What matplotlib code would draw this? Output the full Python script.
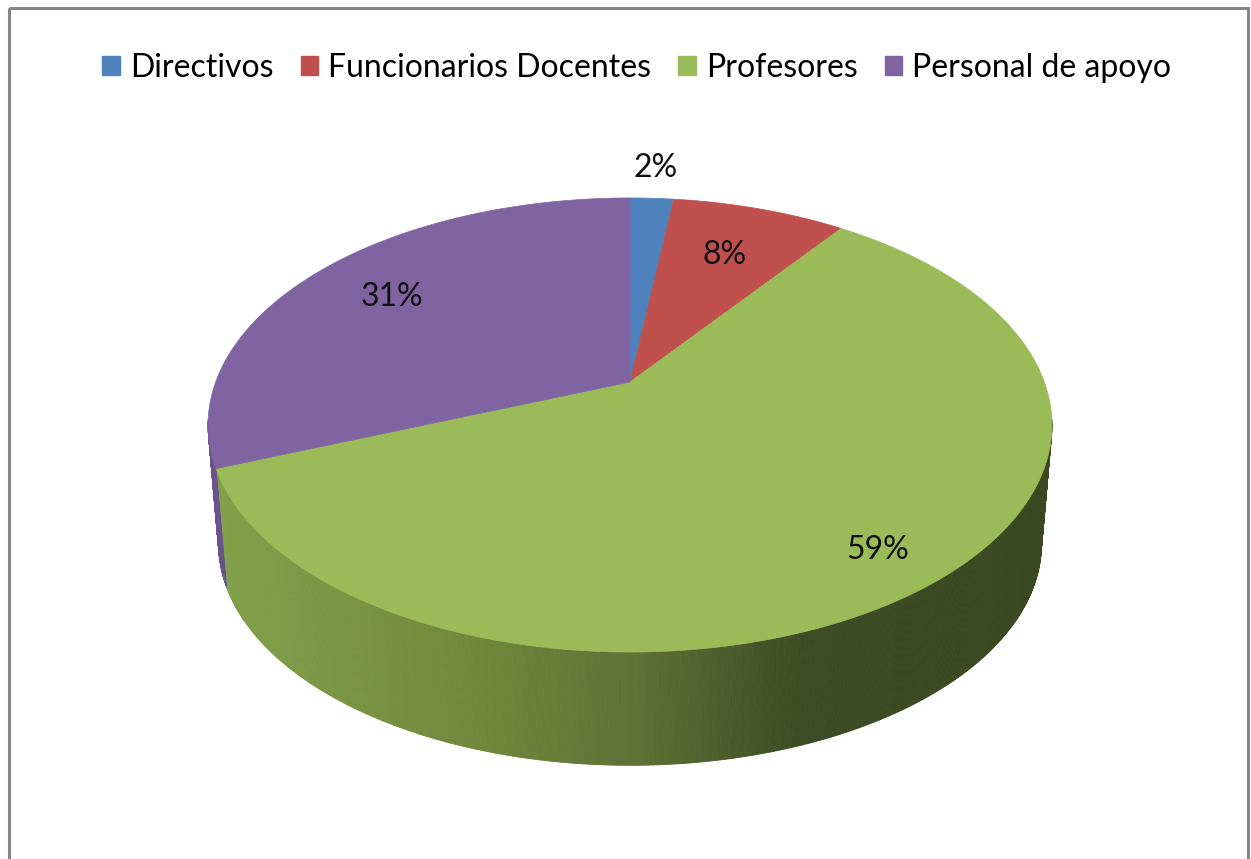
import numpy as np
import matplotlib.pyplot as plt
from matplotlib.patches import Polygon, Rectangle, Patch
from matplotlib.collections import PolyCollection

categories = ["Directivos", "Funcionarios Docentes", "Profesores", "Personal de apoyo"]
values = [2, 8, 59, 31]
labels = ["2%", "8%", "59%", "31%"]
colors = ["#4F81BD", "#C0504D", "#9BBB59", "#8064A2"]

# where each label sits, as a fraction of the radius
label_r = [1.2, 0.7, 0.85, 0.75]

plt.rcParams['font.family'] = ['Lato', 'DejaVu Sans']

# perspective of the disc (in pixels of the picture)
cx, A, B, k = 630, 414.3, 218.9, 0.1894
top_y, bot_y, bot_s = 382, 502, 0.975


def proj(u, v, y0=top_y, s=1.0):
    w = 1 - k * v
    return cx + s * A * u / w, y0 + s * B * v / w


fig = plt.figure(figsize=(12.51, 8.59), dpi=100)
ax = fig.add_axes([0, 0, 1, 1])
ax.set_xlim(0, 1251)
ax.set_ylim(859, 0)
ax.axis('off')

frac = np.array(values) / np.sum(values)
edges = np.concatenate([[0], np.cumsum(frac)]) * 2 * np.pi

# side wall, near half only, shaded left (light) to right (dark)
side_pts = [(215, (130, 160, 74)), (480, (112, 135, 60)), (640, (92, 113, 51)),
            (760, (68, 84, 40)), (800, (61, 76, 36)), (1060, (58, 72, 34))]
sx = np.array([p[0] for p in side_pts])
sc = np.array([p[1] for p in side_pts]) / 255.0
th = np.linspace(np.radians(99.5), np.radians(260.5), 500)
quads, qcols = [], []
for a, b in zip(th[:-1], th[1:]):
    ua, va = np.sin(a), -np.cos(a)
    ub, vb = np.sin(b), -np.cos(b)
    p1 = proj(ua, va); p2 = proj(ub, vb)
    p3 = proj(ub, vb, bot_y, bot_s); p4 = proj(ua, va, bot_y, bot_s)
    quads.append([p1, p2, p3, p4])
    mid = (a + b) / 2
    idx = np.searchsorted(edges, mid) - 1
    if idx == 3:
        qcols.append((0.42, 0.32, 0.56))
    else:
        xm = (p1[0] + p2[0]) / 2
        qcols.append([np.interp(xm, sx, sc[:, i]) for i in range(3)])
ax.add_collection(PolyCollection(quads, facecolors=qcols, edgecolors=qcols, linewidths=0.6))

# top face
for i in range(len(values)):
    t = np.linspace(edges[i], edges[i + 1], 200)
    xs, ys = proj(np.sin(t), -np.cos(t))
    c0 = proj(0, 0)
    pts = np.vstack([[c0], np.column_stack([xs, ys])])
    ax.add_patch(Polygon(pts, closed=True, facecolor=colors[i], edgecolor=colors[i], linewidth=0.5))

for i in range(len(values)):
    m = (edges[i] + edges[i + 1]) / 2
    r = label_r[i]
    lx, ly = proj(r * np.sin(m), -r * np.cos(m))
    ax.text(lx, ly, labels[i], ha='center', va='center', fontsize=23, color='#111111')

ax.add_patch(Rectangle((8.5, 7.5), 1239, 900, fill=False, edgecolor='#868686', linewidth=2.2))

handles = [Patch(facecolor=c, edgecolor=c) for c in colors]
fig.legend(handles, categories, ncol=4, loc='center', bbox_to_anchor=(0.509, 0.921),
           frameon=False, fontsize=23, handlelength=0.56, handleheight=0.56,
           handletextpad=0.3, columnspacing=0.85)

fig.savefig("out.png", dpi=100)
